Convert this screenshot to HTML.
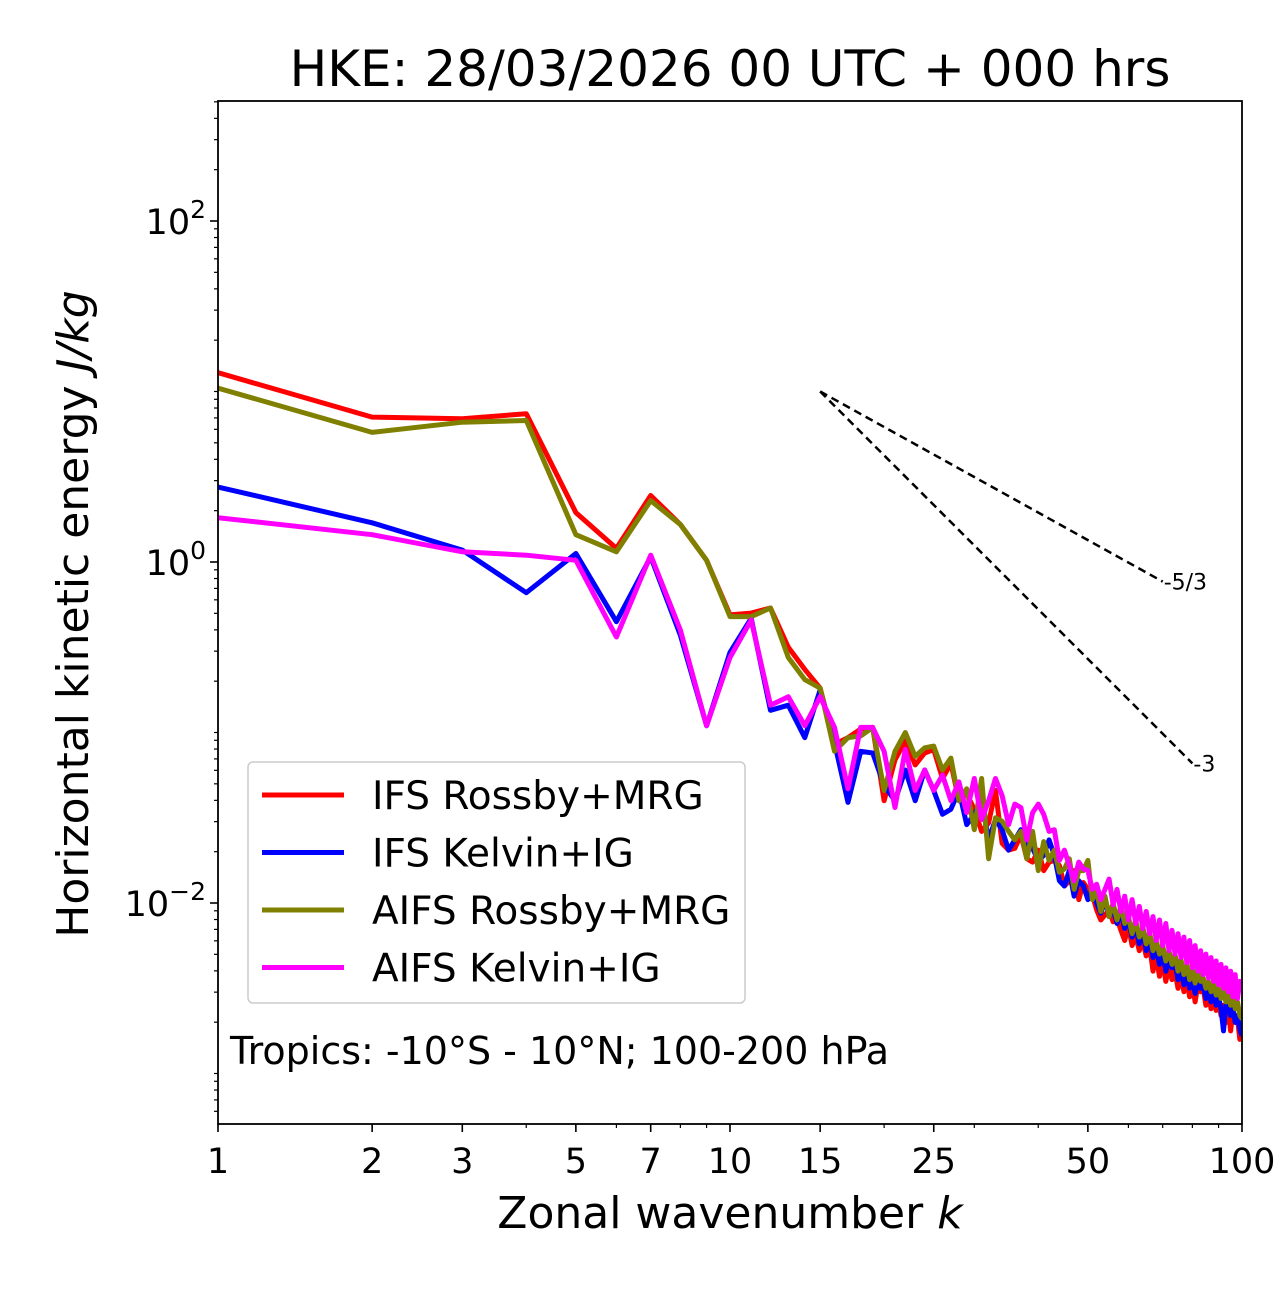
<!DOCTYPE html>
<html><head><meta charset="utf-8"><style>
body{margin:0;background:#fff;}
svg text{font-family:"DejaVu Sans","Liberation Sans",sans-serif;}
</style></head><body>
<svg id="chart" width="1280" height="1288" xmlns="http://www.w3.org/2000/svg">
<text x="730" y="86" font-size="50" text-anchor="middle">HKE: 28/03/2026 00 UTC + 000 hrs</text>
<g id="plot"></g>
</svg>
<script>
const wavenumbers = Array.from({length:100},(_, i)=>i+1);
const xTickValues = [1,2,3,5,7,10,15,25,50,100];
const xTickLabels = ["1","2","3","5","7","10","15","25","50","100"];
const yTickExps = [-2,0,2];
const ifsRossbyLog = [1.11,0.85,0.84,0.87,0.29,0.08,0.39,0.22,0.01,-0.31,-0.30,-0.27,-0.50,-0.63,-0.74,-1.07,-1.03,-0.98,-0.97,-1.40,-1.16,-1.05,-1.19,-1.12,-1.10,-1.27,-1.18,-1.40,-1.36,-1.45,-1.58,-1.53,-1.34,-1.65,-1.69,-1.68,-1.60,-1.74,-1.76,-1.69,-1.81,-1.76,-1.75,-1.78,-1.90,-1.87,-1.81,-1.98,-1.88,-1.92,-1.95,-2.04,-2.10,-2.07,-2.04,-2.11,-2.09,-2.16,-2.22,-2.13,-2.25,-2.19,-2.28,-2.22,-2.31,-2.25,-2.40,-2.31,-2.43,-2.34,-2.46,-2.37,-2.45,-2.40,-2.50,-2.42,-2.52,-2.44,-2.55,-2.47,-2.58,-2.48,-2.52,-2.50,-2.60,-2.52,-2.62,-2.55,-2.63,-2.57,-2.66,-2.60,-2.70,-2.62,-2.75,-2.64,-2.70,-2.68,-2.80,-2.76];
const ifsKelvinLog = [0.44,0.23,0.07,-0.18,0.05,-0.35,0.03,-0.43,-0.96,-0.53,-0.33,-0.87,-0.84,-1.03,-0.75,-1.06,-1.41,-1.11,-1.12,-1.31,-1.40,-1.22,-1.40,-1.22,-1.34,-1.48,-1.45,-1.34,-1.54,-1.48,-1.40,-1.63,-1.51,-1.57,-1.69,-1.63,-1.57,-1.66,-1.68,-1.75,-1.72,-1.63,-1.72,-1.87,-1.90,-1.81,-1.96,-1.87,-1.90,-1.98,-1.92,-2.00,-2.06,-1.98,-2.08,-2.03,-2.12,-2.05,-2.15,-2.10,-2.20,-2.14,-2.24,-2.16,-2.28,-2.20,-2.32,-2.26,-2.36,-2.29,-2.40,-2.33,-2.38,-2.35,-2.45,-2.38,-2.48,-2.42,-2.50,-2.44,-2.53,-2.46,-2.50,-2.48,-2.56,-2.50,-2.58,-2.52,-2.60,-2.55,-2.62,-2.75,-2.60,-2.58,-2.66,-2.62,-2.70,-2.66,-2.74,-2.78];
const aifsRossbyLog = [1.02,0.76,0.82,0.83,0.16,0.06,0.36,0.22,0.01,-0.32,-0.32,-0.27,-0.56,-0.69,-0.74,-1.11,-1.03,-1.02,-0.97,-1.34,-1.11,-1.00,-1.14,-1.09,-1.08,-1.22,-1.15,-1.40,-1.33,-1.57,-1.27,-1.74,-1.50,-1.52,-1.58,-1.63,-1.58,-1.74,-1.58,-1.81,-1.64,-1.75,-1.69,-1.82,-1.80,-1.74,-1.92,-1.81,-1.81,-1.75,-1.98,-1.93,-2.05,-1.96,-2.08,-2.00,-2.10,-2.02,-2.12,-2.08,-2.18,-2.10,-2.20,-2.14,-2.24,-2.17,-2.28,-2.22,-2.30,-2.25,-2.34,-2.28,-2.36,-2.30,-2.40,-2.33,-2.42,-2.36,-2.45,-2.38,-2.47,-2.40,-2.46,-2.44,-2.50,-2.46,-2.52,-2.47,-2.54,-2.50,-2.56,-2.52,-2.58,-2.54,-2.60,-2.56,-2.62,-2.58,-2.66,-2.68];
const aifsKelvinLog = [0.26,0.16,0.06,0.04,0.01,-0.44,0.04,-0.40,-0.96,-0.56,-0.34,-0.84,-0.79,-0.96,-0.79,-0.97,-1.33,-0.97,-0.97,-1.11,-1.44,-1.10,-1.34,-1.22,-1.34,-1.25,-1.40,-1.29,-1.47,-1.27,-1.51,-1.40,-1.27,-1.37,-1.54,-1.42,-1.44,-1.63,-1.47,-1.42,-1.48,-1.58,-1.57,-1.75,-1.69,-1.78,-1.87,-1.76,-1.80,-1.81,-1.92,-1.89,-1.98,-1.92,-1.86,-2.01,-1.92,-2.05,-1.96,-2.10,-1.98,-2.12,-2.02,-2.15,-2.05,-2.18,-2.08,-2.22,-2.10,-2.25,-2.12,-2.28,-2.16,-2.30,-2.18,-2.32,-2.20,-2.35,-2.22,-2.38,-2.25,-2.40,-2.28,-2.42,-2.30,-2.44,-2.32,-2.46,-2.34,-2.48,-2.36,-2.50,-2.38,-2.52,-2.40,-2.55,-2.42,-2.56,-2.46,-2.52];
const refSlopes = [-5/3,-3];
const refLabels = ["-5/3","-3"];
const refEnds = [70,80];

const X0=218,X1=1242,Y0=101,Y1=1124;
const xs = k => X0 + (X1-X0)*Math.log10(k)/2;
const ys = lg => 562 - 170.5*lg;
const svg = document.getElementById('plot');
const NS='http://www.w3.org/2000/svg';
function mk(tag, attrs){const e=document.createElementNS(NS,tag);for(const k in attrs)e.setAttribute(k,attrs[k]);svg.appendChild(e);return e;}

for(let d=-4; d<=3; d++){
  for(let m=1;m<=9;m++){
    const lg=d+Math.log10(m); const y=ys(lg);
    if(y<Y0||y>Y1) continue;
    const major = (m===1 && d%2===0);
    const t=mk('line',{x1:X0,x2:X0-(major?8:4),y1:y,y2:y,stroke:'#000','stroke-width':major?1.6:1.2});
    
    
  }
}
yTickExps.forEach(e=>{
  const t=mk('text',{x:X0-12,y:ys(e)+13,'font-size':35,'text-anchor':'end'});
  
  
  t.innerHTML='10<tspan dy="-16" font-size="25">'+(e<0?'\u2212'+(-e):e)+'</tspan>';
});
for(let d=0; d<2; d++) for(let m=1;m<=9;m++){
  const k=m*Math.pow(10,d); const x=xs(k);
  const t=mk('line',{x1:x,x2:x,y1:Y1,y2:Y1+4,stroke:'#000','stroke-width':1.2});
  
  
}
xTickValues.forEach((v,i)=>{
  const x=xs(v);
  const t=mk('line',{x1:x,x2:x,y1:Y1,y2:Y1+8,stroke:'#000','stroke-width':1.6});
  
  
  const l=mk('text',{x:x,y:Y1+49,'font-size':35,'text-anchor':'middle'});
  
  
  l.textContent=xTickLabels[i];
});
const series=[[ifsRossbyLog,'#ff0000','ifs-rossby-line'],[ifsKelvinLog,'#0000ff','ifs-kelvin-line'],[aifsRossbyLog,'#808000','aifs-rossby-line'],[aifsKelvinLog,'#ff00ff','aifs-kelvin-line']];
const clip=mk('clipPath',{id:'pc'}); const cr=document.createElementNS(NS,'rect');
cr.setAttribute('x',X0);cr.setAttribute('y',Y0);cr.setAttribute('width',X1-X0);cr.setAttribute('height',Y1-Y0);clip.appendChild(cr);
series.forEach(([arr,c,n])=>{
  const p=mk('polyline',{points:arr.map((v,i)=>xs(wavenumbers[i]).toFixed(1)+','+ys(v).toFixed(1)).join(' '),fill:'none',stroke:c,'stroke-width':5,'stroke-linejoin':'round','clip-path':'url(#pc)'});
  
  
});
refSlopes.forEach((s,i)=>{
  const k0=15, lg0=1.0, k1=refEnds[i], lg1=lg0+s*Math.log10(k1/k0);
  const l=mk('line',{x1:xs(k0),y1:ys(lg0),x2:xs(k1),y2:ys(lg1),stroke:'#000','stroke-width':2.5,'stroke-dasharray':'8,5'});
  
  
  const t=mk('text',{x:xs(k1)+1,y:ys(lg1)+8,'font-size':22});
  
  
  t.textContent=refLabels[i];
});
const fr=mk('rect',{x:X0,y:Y0,width:X1-X0,height:Y1-Y0,fill:'none',stroke:'#000','stroke-width':1.8});


const lg=mk('rect',{x:248,y:762,width:497,height:241,rx:5,fill:'#fff','fill-opacity':0.8,stroke:'#ccc','stroke-width':1.5});


const names=['IFS Rossby+MRG','IFS Kelvin+IG','AIFS Rossby+MRG','AIFS Kelvin+IG'];
names.forEach((nm,i)=>{
  const y=795+i*57.5;
  const l=mk('line',{x1:262,x2:344,y1:y,y2:y,stroke:series[i][1],'stroke-width':5});
  
  
  const t=mk('text',{x:372,y:y+14,'font-size':39});
  
  
  t.textContent=nm;
});
const an=mk('text',{x:230,y:1064,'font-size':38});


an.textContent='Tropics: -10°S - 10°N; 100-200 hPa';
const xl=mk('text',{x:730,y:1228,'font-size':44,'text-anchor':'middle'});


xl.innerHTML='Zonal wavenumber <tspan font-style="italic">k</tspan>';
const yl=mk('text',{x:0,y:0,'font-size':44,'text-anchor':'middle',transform:'translate(88,614) rotate(-90)'});


yl.innerHTML='Horizontal kinetic energy <tspan font-style="italic">J/kg</tspan>';
</script>
</body></html>
